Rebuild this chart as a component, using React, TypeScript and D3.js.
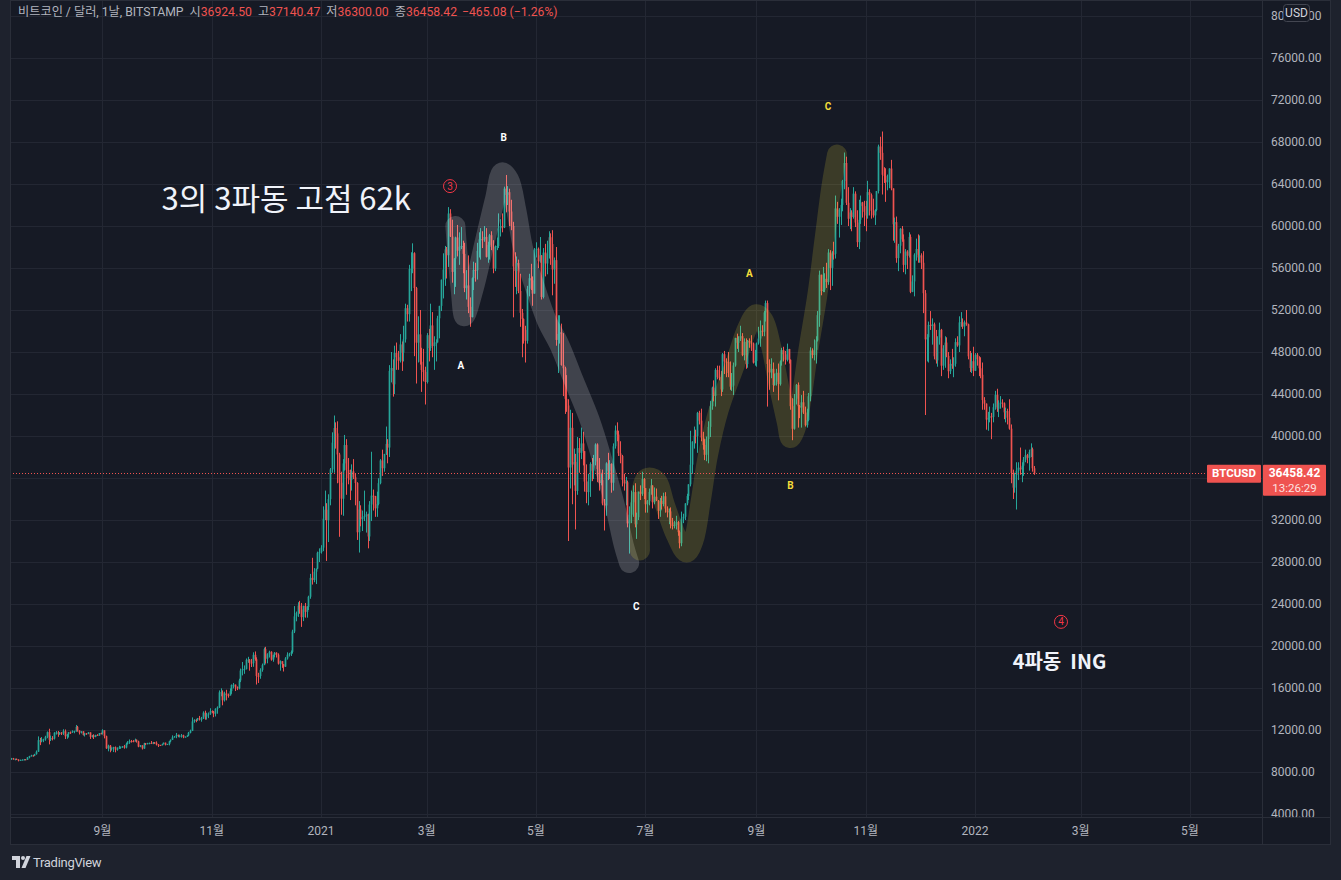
import React, { useMemo } from "react";
import * as d3 from "d3";

// ---------------- data (prices in thousands USD, daily, from 2020-07-12) ----------------
const START_DATE = "2020-07-12";
const FIRST_OPEN = 9.23;

const closes = [
  // 2020-07 (12..31)
  9.30,9.24,9.25,9.19,9.13,9.15,9.17,9.21,9.16,9.39,9.52,9.58,9.54,9.70,9.93,11.03,10.91,11.10,11.11,11.35,
  // 2020-08
  11.80,11.07,11.23,11.19,11.74,11.77,11.60,11.75,11.68,11.88, 11.40,11.58,11.78,11.77,11.87,11.91,12.30,11.95,11.75,11.87, 11.52,11.68,11.65,11.77,11.35,11.47,11.33,11.53,11.48,11.71,11.68,
  // 2020-09
  11.97,11.41,10.25,10.51,10.17,10.28,10.37,10.13,10.24,10.36, 10.40,10.44,10.33,10.68,10.79,10.95,10.94,10.93,11.08,10.92, 10.42,10.54,10.24,10.74,10.69,10.73,10.77,10.70,10.84,10.78,
  // 2020-10
  10.62,10.57,10.55,10.67,10.79,10.60,10.67,10.92,11.06,11.30, 11.38,11.54,11.43,11.43,11.50,11.32,11.36,11.48,11.74,11.92, 12.82,12.97,12.93,13.12,13.03,13.07,13.65,13.27,13.46,13.56,13.80,
  // 2020-11
  13.76,13.55,14.02,14.15,15.59,15.59,14.83,15.48,15.33,15.30, 15.70,16.28,16.32,16.07,15.96,16.72,17.66,17.80,17.82,18.68, 18.70,18.42,18.37,19.16,18.74,17.15,17.14,17.72,18.18,19.70,
  // 2020-12
  18.79,19.22,19.45,18.70,19.15,19.36,19.17,18.32,18.55,18.26, 18.04,18.81,19.17,19.27,19.44,21.38,22.82,23.15,23.85,23.48, 22.75,23.82,23.25,23.72,24.69,26.49,26.28,27.08,27.37,28.88,28.95,
  // 2021-01
  29.37,32.13,32.98,31.98,33.99,36.82,39.37,40.76,40.25,38.24, 35.55,34.03,37.39,39.14,36.77,36.00,35.80,36.63,36.07,35.52, 30.83,33.00,32.07,32.28,32.37,32.55,30.43,33.47,34.32,34.27,33.11,
  // 2021-02
  33.52,35.51,37.67,36.93,38.29,39.25,38.90,46.20,46.48,44.92, 47.91,47.50,47.17,48.72,47.94,49.20,52.17,51.60,55.91,55.94, 57.41,54.09,48.89,49.68,47.07,46.28,46.10,45.14,
  // 2021-03
  49.60,48.38,50.53,48.56,48.91,48.91,51.21,52.39,54.88,55.86, 57.77,57.22,61.19,59.00,55.63,56.90,58.91,57.65,58.03,58.10, 57.35,54.08,54.34,52.30,51.32,55.03,55.82,55.78,57.63,58.73,58.74,
  // 2021-04
  58.72,58.96,57.06,58.20,59.12,58.02,55.95,58.08,58.09,59.77, 60.00,59.86,63.56,62.96,63.22,61.38,60.00,56.15,55.71,56.47, 53.81,51.73,51.15,50.11,49.07,54.02,55.03,54.82,53.56,57.75,
  // 2021-05
  57.83,56.63,57.21,53.24,57.47,56.43,57.38,58.93,58.28,55.86, 56.75,49.15,49.72,49.88,46.76,46.45,43.54,42.91,37.00,40.78, 37.28,37.53,34.77,38.86,38.40,39.29,38.56,35.66,34.66,35.68,37.34,
  // 2021-06
  36.69,37.57,39.19,36.85,35.52,35.80,33.57,33.38,37.39,36.69, 37.34,35.55,39.02,40.52,40.14,38.35,38.09,35.82,35.48,35.60, 31.68,32.51,33.68,34.66,31.59,32.26,34.70,34.49,35.91,35.04,
  // 2021-07
  33.50,33.80,34.67,35.29,33.69,34.22,33.86,32.88,33.81,33.52, 34.26,33.09,32.73,32.82,31.78,31.42,31.53,31.80,30.84,29.79, 32.14,32.31,33.58,34.28,35.40,37.27,39.46,40.03,40.01,42.21,41.46,
  // 2021-08
  39.85,39.15,38.21,39.72,40.87,42.84,44.61,43.82,46.29,45.60, 45.55,44.43,47.79,47.10,47.05,46.00,44.70,44.80,46.72,49.34, 48.87,49.28,49.51,47.70,48.97,46.85,49.07,48.90,48.81,46.99,47.13,
  // 2021-09
  48.82,49.28,50.03,49.94,51.77,52.66,46.86,46.05,46.40,44.85, 45.17,46.02,44.94,47.09,48.18,47.78,47.26,48.28,47.26,42.84, 40.69,43.56,44.87,42.84,42.71,43.21,42.24,41.03,41.52,43.79,
  // 2021-10
  48.14,47.71,48.20,49.11,51.51,55.36,53.81,53.94,54.97,54.66, 57.47,56.01,57.37,57.35,61.67,60.88,61.53,62.01,64.28,66.00, 62.21,60.69,61.29,60.86,63.08,60.33,58.46,60.59,62.25,61.89,61.35,
  // 2021-11
  61.00,63.23,62.94,61.45,61.01,61.53,63.33,67.57,66.97,64.88, 64.78,64.16,64.40,65.47,63.58,60.16,60.37,56.94,58.12,59.74, 58.73,56.30,57.57,57.17,58.96,53.73,54.72,57.27,57.81,57.00,
  // 2021-12
  57.20,56.50,53.60,49.20,49.40,50.58,50.47,50.64,47.59,47.20, 49.38,50.11,46.70,48.35,48.90,47.63,46.17,46.87,46.70,46.88, 48.94,48.63,50.82,50.84,50.43,50.81,50.64,47.59,46.47,47.12,46.21,
  // 2022-01
  47.74,47.31,46.45,45.83,43.42,43.08,41.56,41.73,41.87,41.82, 42.74,43.92,42.59,43.10,43.18,43.11,42.25,42.37,41.74,40.70, 36.48,35.08,36.28,36.69,36.98,36.82,37.17,37.74,38.17,37.92,38.48,
  // 2022-02
  38.74,36.92,36.45842,
];

const highs = [
  9.34,9.34,9.27,9.28,9.21,9.18,9.20,9.24,9.22,9.42,9.54,9.64,9.62,9.73,10.05,11.39,11.25,11.33,11.17,11.45,
  11.86,12.12,11.47,11.42,11.79,11.90,11.91,11.80,11.80,12.07, 12.05,11.61,11.80,11.86,11.97,11.93,12.48,12.39,11.97,11.89, 11.88,11.69,11.71,11.80,11.77,11.53,11.59,11.54,11.60,11.71,11.75,
  12.07,11.97,11.46,10.60,10.57,10.35,10.40,10.43,10.35,10.50, 10.42,10.47,10.58,10.80,10.94,11.10,11.05,11.04,11.18,11.08, 10.98,10.57,10.55,10.78,10.76,10.78,10.80,10.95,10.86,10.84,
  10.92,10.66,10.59,10.69,10.80,10.80,10.68,10.95,11.10,11.49, 11.43,11.72,11.56,11.55,11.62,11.55,11.40,11.50,11.82,12.03, 13.20,13.02,13.03,13.15,13.34,13.25,13.78,13.84,13.63,13.67,14.07,
  13.87,13.82,14.07,14.25,15.77,15.97,15.77,15.65,15.83,15.47, 15.96,16.34,16.48,16.33,16.15,16.88,17.85,18.48,18.15,18.81, 18.97,18.75,18.77,19.40,19.48,18.92,17.45,17.88,18.33,19.85,
  19.92,19.31,19.55,19.50,19.18,19.42,19.40,19.30,18.63,18.56, 18.28,18.94,19.40,19.35,19.57,21.55,23.80,23.28,24.17,24.30, 24.10,23.84,24.10,23.80,24.79,26.87,28.40,27.42,27.37,28.99,29.30,
  29.60,33.30,34.80,33.60,34.45,36.95,40.35,41.95,41.30,41.40, 38.40,36.60,37.80,40.10,39.70,37.90,36.80,37.30,37.80,36.40, 35.60,33.80,33.40,32.90,34.80,32.80,32.60,33.80,38.50,34.90,34.30,
  34.70,35.98,37.80,38.70,38.30,40.90,39.70,46.75,48.00,47.30, 48.60,48.90,48.10,49.70,49.00,50.50,52.60,52.50,56.30,57.50, 58.35,57.50,54.20,51.40,52.00,48.40,48.30,46.60,
  49.80,50.20,52.60,51.80,49.50,49.20,51.45,52.40,54.90,57.40, 58.10,58.00,61.80,61.60,60.60,56.95,58.98,60.10,59.40,59.90, 58.60,58.40,55.80,57.20,53.20,55.10,56.60,56.50,58.40,59.40,59.80,
  59.50,60.00,59.80,58.50,59.25,59.50,58.65,58.15,58.90,61.20, 60.65,61.20,63.75,64.86,63.80,63.55,62.50,60.40,57.50,57.10, 56.80,55.45,52.10,51.20,50.50,54.30,55.45,56.40,55.20,57.90,
  58.45,57.95,58.95,57.20,57.90,58.30,58.60,59.50,59.30,59.60, 57.00,58.00,51.50,51.50,50.70,49.80,46.60,45.80,43.50,42.50, 42.20,38.80,38.30,39.90,39.80,40.80,40.40,38.00,37.30,36.40,37.50,
  37.90,38.20,39.30,39.30,37.90,36.50,36.80,34.00,37.50,38.40, 37.70,37.40,39.30,41.00,41.30,40.50,39.50,38.20,36.40,36.10, 35.75,33.30,34.80,35.30,35.50,32.70,34.70,35.30,36.60,36.00,
  35.00,33.90,35.00,35.90,35.30,35.10,35.00,33.90,34.10,34.30, 34.60,34.65,33.30,33.10,33.20,32.20,31.90,32.40,31.90,31.00, 32.80,32.60,33.60,34.50,35.40,40.50,39.50,40.90,40.60,42.30,42.40,
  42.60,40.40,39.70,39.95,41.40,43.35,44.70,45.30,46.45,46.70, 46.70,46.20,47.90,48.10,47.40,48.00,47.10,46.00,47.00,49.35, 49.75,49.50,50.50,49.80,49.30,49.30,49.15,49.30,49.60,48.90,48.20,
  48.90,50.40,51.00,50.55,51.90,52.90,52.90,47.30,47.40,47.00, 45.95,46.40,46.90,47.20,48.40,48.50,48.10,48.80,48.30,47.30, 43.60,44.00,44.95,45.10,42.95,43.90,44.30,42.80,42.60,44.10,
  48.45,48.35,49.20,49.50,51.90,55.75,55.30,56.10,55.50,56.50, 57.80,57.70,57.60,58.50,62.90,62.30,61.70,62.60,64.40,67.00, 66.60,63.70,61.70,61.50,63.70,63.30,61.50,62.50,62.90,62.30,62.40,
  62.40,64.30,63.50,63.10,62.60,61.60,63.30,67.75,68.50,69.00, 65.60,65.50,64.90,65.50,66.30,63.50,60.80,60.90,58.30,59.80, 60.00,59.20,57.80,57.70,59.40,59.20,55.30,57.40,58.80,59.20,
  59.10,57.40,57.60,53.90,49.70,50.90,51.90,51.20,50.80,50.10, 49.50,50.80,50.20,48.65,49.50,49.40,48.00,47.30,48.30,47.50, 49.30,49.50,51.40,51.80,51.20,51.00,52.00,50.70,48.10,47.90,48.50,
  47.90,47.90,47.60,47.50,47.00,43.70,43.10,42.30,42.80,42.20, 43.10,44.30,44.50,43.40,43.80,43.50,43.20,42.70,42.60,43.50, 41.10,36.80,36.50,37.50,37.50,38.90,37.50,38.00,38.70,38.30,38.70,
  39.30,38.90,37.14047,
];

const lows = [
  9.16,9.17,9.11,9.14,9.01,9.09,9.13,9.12,9.13,9.15,9.30,9.48,9.47,9.53,9.65,9.92,10.56,10.83,10.84,10.98,
  11.22,10.63,10.95,11.01,11.09,11.56,11.35,11.54,11.52,11.53, 11.14,11.16,11.28,11.62,11.72,11.69,11.83,11.84,11.57,11.67, 11.48,11.38,11.54,11.60,11.15,11.28,11.14,11.31,11.45,11.45,11.58,
  11.56,11.20,10.20,9.97,9.88,10.03,9.90,9.87,10.03,10.20, 10.21,10.30,10.22,10.25,10.62,10.68,10.80,10.84,10.89,10.80, 10.36,10.36,10.14,10.20,10.56,10.65,10.64,10.66,10.65,10.68,
  10.53,10.38,10.52,10.53,10.63,10.53,10.58,10.54,10.83,11.06, 11.28,11.22,11.31,11.29,11.27,11.22,11.30,11.34,11.42,11.68, 11.90,12.69,12.74,12.87,12.90,12.79,13.05,12.98,12.99,13.13,13.44,
  13.62,13.22,13.29,13.55,14.10,15.21,14.35,14.71,14.82,15.08, 15.28,15.44,15.96,15.71,15.80,15.87,16.56,17.20,17.35,17.76, 18.40,17.65,18.00,18.02,18.60,16.33,16.48,16.88,17.55,18.18,
  18.33,18.35,18.90,18.60,18.50,18.92,18.90,18.23,17.65,17.92, 17.57,18.00,18.70,19.00,19.05,19.28,21.23,22.35,22.77,23.07, 21.82,22.37,22.70,22.70,23.43,24.50,25.85,26.07,25.90,27.32,28.00,
  28.80,29.03,32.00,28.10,29.90,33.40,36.50,36.50,38.80,35.50, 30.40,32.50,32.40,36.70,34.40,35.40,33.90,34.80,35.90,33.40, 30.10,28.90,31.40,30.95,31.90,30.80,29.30,30.00,31.90,32.90,32.30,
  32.30,33.40,35.40,36.20,36.60,38.20,37.40,38.00,45.10,43.75, 44.00,46.30,46.30,47.00,46.20,47.10,48.90,50.90,50.90,53.80, 55.50,47.60,45.00,47.00,46.80,44.20,45.20,43.00,
  45.00,47.10,48.10,47.50,46.30,47.10,48.90,49.30,51.90,53.10, 54.30,55.00,56.10,58.95,54.60,53.50,54.20,57.10,56.30,57.80, 55.50,53.70,53.00,51.70,50.40,51.30,53.90,54.70,54.90,57.00,56.80,
  57.90,58.50,57.00,56.50,56.80,57.70,55.50,55.70,57.70,57.90, 59.00,59.40,59.80,61.30,62.00,60.00,59.60,51.30,54.20,53.50, 53.60,50.40,47.50,48.80,47.00,48.80,53.30,53.90,52.40,53.90,
  57.00,56.00,56.50,53.00,53.10,55.20,55.40,56.90,56.30,53.40, 54.50,48.60,46.00,48.80,46.70,43.80,42.10,42.30,30.00,35.00, 33.50,35.30,31.10,34.40,36.50,37.80,37.20,34.70,33.60,33.40,34.20,
  35.70,35.90,37.20,35.60,34.80,35.30,33.40,31.00,32.40,35.80, 35.90,34.60,34.80,38.80,39.50,38.10,37.40,35.20,34.80,33.40, 31.30,28.80,31.70,32.30,31.30,30.20,32.00,33.90,34.30,34.00,
  32.70,32.70,33.40,34.40,33.10,33.50,33.80,32.10,32.30,33.00, 33.30,32.70,32.25,31.60,31.20,31.10,31.20,31.10,30.50,29.30, 29.50,31.70,32.00,33.40,33.90,35.20,36.40,38.80,39.30,38.40,41.10,
  39.50,38.70,37.70,37.60,37.40,39.90,42.50,43.30,42.80,45.40, 45.30,43.80,44.20,45.90,45.60,45.60,44.40,44.30,43.90,46.60, 48.30,48.00,49.05,47.60,47.20,46.40,46.50,48.40,48.10,46.90,46.70,
  46.60,48.70,48.50,49.50,49.50,50.90,42.80,44.40,45.50,44.20, 44.80,44.80,43.40,44.80,46.70,47.10,46.80,47.10,46.90,42.50, 39.60,40.60,43.00,40.80,41.70,40.80,42.10,40.90,40.80,41.40,
  43.30,47.40,47.20,46.90,49.00,50.40,53.40,53.70,53.70,54.10, 54.40,53.90,54.30,56.80,56.90,60.20,58.90,60.10,61.40,63.50, 62.00,60.00,59.70,59.50,60.70,59.90,58.00,57.80,60.20,60.80,60.00,
  59.50,60.70,61.00,60.70,60.80,60.10,61.40,63.10,66.30,63.00, 64.10,62.30,63.40,63.60,63.40,58.60,58.40,56.50,55.70,57.40, 58.50,55.60,55.40,55.90,57.00,53.60,53.70,53.30,56.70,56.50,
  56.50,55.90,51.70,42.00,47.10,47.00,50.10,48.70,47.30,46.90, 46.60,48.70,45.70,46.30,46.50,47.50,45.50,45.90,46.40,45.60, 46.60,48.50,48.00,50.40,50.20,49.50,50.50,47.30,46.10,46.00,45.70,
  46.20,46.70,45.70,45.50,42.50,42.50,40.60,40.50,41.30,39.70, 41.30,42.50,42.30,41.80,42.60,42.70,41.60,41.30,41.10,40.60, 35.50,34.00,34.60,33.00,35.80,36.30,35.60,36.20,37.50,37.40,36.70,
  38.00,36.60,36.30,
];

const priceTicks = [4000, 8000, 12000, 16000, 20000, 24000, 28000, 32000, 36000, 40000, 44000, 48000, 52000, 56000, 60000, 64000, 68000, 72000, 76000, 80000];
const monthNames = ["", "2월", "3월", "4월", "5월", "6월", "7월", "8월", "9월", "10월", "11월", "12월"];

const lastBar = { open: 36924.5, high: 37140.47, low: 36300.0, close: 36458.42, change: -465.08, pct: -1.26 };
const countdown = "13:26:29";

// drawn waves (date, price)
const grayWave: [string, number][] = [
  ["2021-03-17", 60000], ["2021-03-18", 57700], ["2021-03-20", 53900], ["2021-03-22", 51400],
  ["2021-03-27", 53900], ["2021-04-02", 58200], ["2021-04-08", 62500], ["2021-04-12", 65100],
  ["2021-04-16", 64400], ["2021-04-20", 61500], ["2021-04-24", 57700], ["2021-04-30", 54400],
  ["2021-05-07", 51000], ["2021-05-14", 48700], ["2021-05-22", 45300], ["2021-05-31", 41500],
  ["2021-06-07", 37700], ["2021-06-14", 33400], ["2021-06-19", 29600], ["2021-06-22", 27900],
];
const oliveWave: [string, number][] = [
  ["2021-06-28", 29100], ["2021-06-29", 34900], ["2021-07-02", 36000], ["2021-07-07", 35800],
  ["2021-07-12", 33400], ["2021-07-18", 30600], ["2021-07-24", 28900], ["2021-07-28", 30100],
  ["2021-08-01", 33900], ["2021-08-05", 38200], ["2021-08-11", 42500], ["2021-08-20", 46800],
  ["2021-08-27", 50300], ["2021-09-01", 51600], ["2021-09-05", 51000], ["2021-09-09", 48700],
  ["2021-09-14", 44400], ["2021-09-18", 41300], ["2021-09-20", 39800], ["2021-09-23", 40800],
  ["2021-09-26", 43400], ["2021-09-30", 48200], ["2021-10-05", 53400], ["2021-10-09", 58700],
  ["2021-10-13", 63900], ["2021-10-16", 66800],
];

const waveLabels: { t: string; d: string; p: number; c: string }[] = [
  { t: "B", d: "2021-04-13", p: 68400, c: "#ffffff" },
  { t: "A", d: "2021-03-20", p: 46700, c: "#ffffff" },
  { t: "C", d: "2021-06-26", p: 23800, c: "#ffffff" },
  { t: "A", d: "2021-08-28", p: 55500, c: "#f5dc3a" },
  { t: "B", d: "2021-09-20", p: 35300, c: "#f5dc3a" },
  { t: "C", d: "2021-10-11", p: 71400, c: "#f5dc3a" },
];
const circled: { t: string; d: string; p: number }[] = [
  { t: "3", d: "2021-03-14", p: 63800 },
  { t: "4", d: "2022-02-18", p: 22300 },
];
const notes: { t: string; d: string; p: number; size: number; weight: number }[] = [
  { t: "3의 3파동 고점 62k", d: "2020-10-04", p: 61500, size: 31, weight: 400 },
  { t: "4파동\u00a0\u00a0ING", d: "2022-01-22", p: 17800, size: 20, weight: 700 },
];

// ---------------- style ----------------
const W = 1341, H = 880;
const PL = 10, PR = 1262, PT = 0, PB = 817, AXR = 1331, TB = 845;
const BG = "#161a25", FRAME = "#1e222d", GRID = "#232733", BORDER = "#2a2e39";
const UP = "#26a69a", DOWN = "#ef5350", TXT = "#b2b5be";
const FONT = "Roboto, 'Noto Sans CJK KR', sans-serif";

const dt = (s: string) => new Date(s + "T00:00:00Z");

export default function App() {
  const x = useMemo(() => d3.scaleUtc().domain([dt("2021-01-01"), dt("2022-01-01")]).range([321, 975]), []);
  const y = useMemo(() => d3.scaleLinear().domain([4000, 80000]).range([814, 16]), []);

  const candles = useMemo(() => {
    const s = dt(START_DATE);
    return closes.map((c, i) => {
      const o = i === 0 ? FIRST_OPEN : closes[i - 1];
      const open = (i === closes.length - 1 ? lastBar.open / 1000 : o) * 1000;
      const close = c * 1000;
      const high = Math.max(highs[i] * 1000, open, close);
      const low = Math.min(lows[i] * 1000, open, close);
      return { date: d3.utcDay.offset(s, i), open, close, high, low };
    });
  }, []);

  const xEnd = x.invert(PR);
  const monthTicks = d3.utcMonth.every(2)!.range(dt("2020-08-01"), xEnd);
  const tickLabel = (d: Date) => (d.getUTCMonth() === 0 ? String(d.getUTCFullYear()) : monthNames[d.getUTCMonth()]);

  const line = d3.line<[string, number]>().x((d) => x(dt(d[0]))).y((d) => y(d[1])).curve(d3.curveCatmullRom.alpha(0.5));

  const yLast = y(lastBar.close);
  const fmt = (v: number) => v.toFixed(2);
  const axisTicks = priceTicks.filter((v) => Math.abs(y(v) - yLast) > 22);

  return (
    <svg width={W} height={H} style={{ position: "absolute", left: 0, top: 0, display: "block" }} fontFamily={FONT}>
      <defs>
        <clipPath id="pane"><rect x={PL} y={PT} width={PR - PL} height={PB - PT} /></clipPath>
        <clipPath id="axis"><rect x={PR} y={PT} width={AXR - PR} height={PB - PT} /></clipPath>
      </defs>
      <rect x={0} y={0} width={W} height={H} fill={FRAME} />
      <rect x={PL} y={PT} width={AXR - PL} height={TB - PT} fill={BG} />

      {/* grid */}
      <g clipPath="url(#pane)">
        {priceTicks.map((v) => (
          <line key={v} x1={PL} x2={PR} y1={Math.round(y(v)) + 0.5} y2={Math.round(y(v)) + 0.5} stroke={GRID} />
        ))}
        {monthTicks.map((d) => (
          <line key={+d} x1={Math.round(x(d)) + 0.5} x2={Math.round(x(d)) + 0.5} y1={PT} y2={PB} stroke={GRID} />
        ))}
      </g>

      {/* candles */}
      <g clipPath="url(#pane)">
        {candles.map((c, i) => {
          const cx = Math.round(x(c.date)) + 0.5;
          const col = c.close >= c.open ? UP : DOWN;
          const yo = y(c.open), yc = y(c.close);
          return (
            <g key={i}>
              <line x1={cx} x2={cx} y1={y(c.high)} y2={y(c.low)} stroke={col} strokeWidth={1} />
              <rect x={cx - 0.85} width={1.7} y={Math.min(yo, yc)} height={Math.max(1, Math.abs(yo - yc))} fill={col} />
            </g>
          );
        })}
      </g>

      {/* highlighter waves */}
      <g clipPath="url(#pane)" fill="none" strokeLinecap="round" strokeLinejoin="round">
        <path d={line(grayWave) || ""} stroke="rgba(255,255,255,0.18)" strokeWidth={20} />
        <path d={line(oliveWave) || ""} stroke="rgba(255,235,59,0.16)" strokeWidth={20} />
      </g>

      {/* last price line */}
      <line x1={PL} x2={1207} y1={Math.round(yLast) + 0.5} y2={Math.round(yLast) + 0.5} stroke={DOWN} strokeDasharray="1 2" />

      {/* annotations */}
      <g clipPath="url(#pane)">
        {notes.map((n) => (
          <text key={n.t} x={x(dt(n.d))} y={y(n.p)} fill="#f0f3fa" fontSize={n.size} fontWeight={n.weight} fontFamily="'Noto Sans CJK KR', sans-serif">{n.t}</text>
        ))}
        {waveLabels.map((l, i) => (
          <text key={i} x={x(dt(l.d))} y={y(l.p)} dy="0.35em" textAnchor="middle" fill={l.c} fontSize={10} fontWeight={700}>{l.t}</text>
        ))}
        {circled.map((c) => (
          <g key={c.t} transform={`translate(${x(dt(c.d))},${y(c.p)})`}>
            <circle r={6.5} fill="none" stroke="#f23645" strokeWidth={1} />
            <text dy="0.35em" textAnchor="middle" fill="#f23645" fontSize={10}>{c.t}</text>
          </g>
        ))}
      </g>

      {/* header legend */}
      <text x={18} y={16} fontSize={12.2} fill={TXT}>
        비트코인 / 달러, 1날, BITSTAMP
        <tspan dx={6}>시</tspan><tspan fill={DOWN}>{fmt(lastBar.open)}</tspan>
        <tspan dx={6}>고</tspan><tspan fill={DOWN}>{fmt(lastBar.high)}</tspan>
        <tspan dx={6}>저</tspan><tspan fill={DOWN}>{fmt(lastBar.low)}</tspan>
        <tspan dx={6}>종</tspan><tspan fill={DOWN}>{fmt(lastBar.close)}</tspan>
        <tspan dx={5} fill={DOWN}>{`\u2212${Math.abs(lastBar.change).toFixed(2)} (\u2212${Math.abs(lastBar.pct).toFixed(2)}%)`}</tspan>
      </text>

      {/* borders */}
      <line x1={PR + 0.5} x2={PR + 0.5} y1={PT} y2={TB} stroke={BORDER} />
      <line x1={PL} x2={AXR} y1={PB + 0.5} y2={PB + 0.5} stroke={BORDER} />
      <rect x={PL + 0.5} y={PT + 0.5} width={AXR - PL - 1} height={TB - PT - 1} fill="none" stroke={BORDER} />

      {/* price axis */}
      <g clipPath="url(#axis)">
        {axisTicks.map((v) => (
          <text key={v} x={1271} y={y(v)} dy="0.35em" fontSize={12} fill={TXT}>{fmt(v)}</text>
        ))}
      </g>
      <rect x={1283.5} y={4.5} width={26} height={17} rx={3} fill={BG} stroke="#434651" />
      <text x={1296.5} y={13} dy="0.35em" textAnchor="middle" fontSize={12} fill="#d1d4dc">USD</text>

      {/* last price tags */}
      <rect x={1207} y={yLast - 8.5} width={54} height={18} rx={1} fill={DOWN} />
      <text x={1234} y={yLast} dy="0.35em" textAnchor="middle" fontSize={11.5} fontWeight={700} fill="#ffffff">BTCUSD</text>
      <rect x={1263} y={yLast - 8.5} width={63} height={31} rx={1} fill={DOWN} />
      <text x={1294.5} y={yLast} dy="0.35em" textAnchor="middle" fontSize={12} fontWeight={700} fill="#ffffff">{fmt(lastBar.close)}</text>
      <text x={1294.5} y={yLast + 14.5} dy="0.35em" textAnchor="middle" fontSize={11.5} fill="#fde2e2">{countdown}</text>

      {/* time axis */}
      {monthTicks.map((d) => (
        <text key={+d} x={x(d)} y={831} dy="0.35em" textAnchor="middle" fontSize={12} fill={TXT}>{tickLabel(d)}</text>
      ))}

      {/* TradingView logo */}
      <g fill="#d1d4dc">
        <path d="M12 856 h8 v12 h-4 v-8 h-4 z" />
        <circle cx={23} cy={858} r={2} />
        <path d="M26.5 856 h4 l-5 12 h-4 z" />
        <text x={33} y={867} fontSize={13} letterSpacing={-0.3}>TradingView</text>
      </g>
    </svg>
  );
}
